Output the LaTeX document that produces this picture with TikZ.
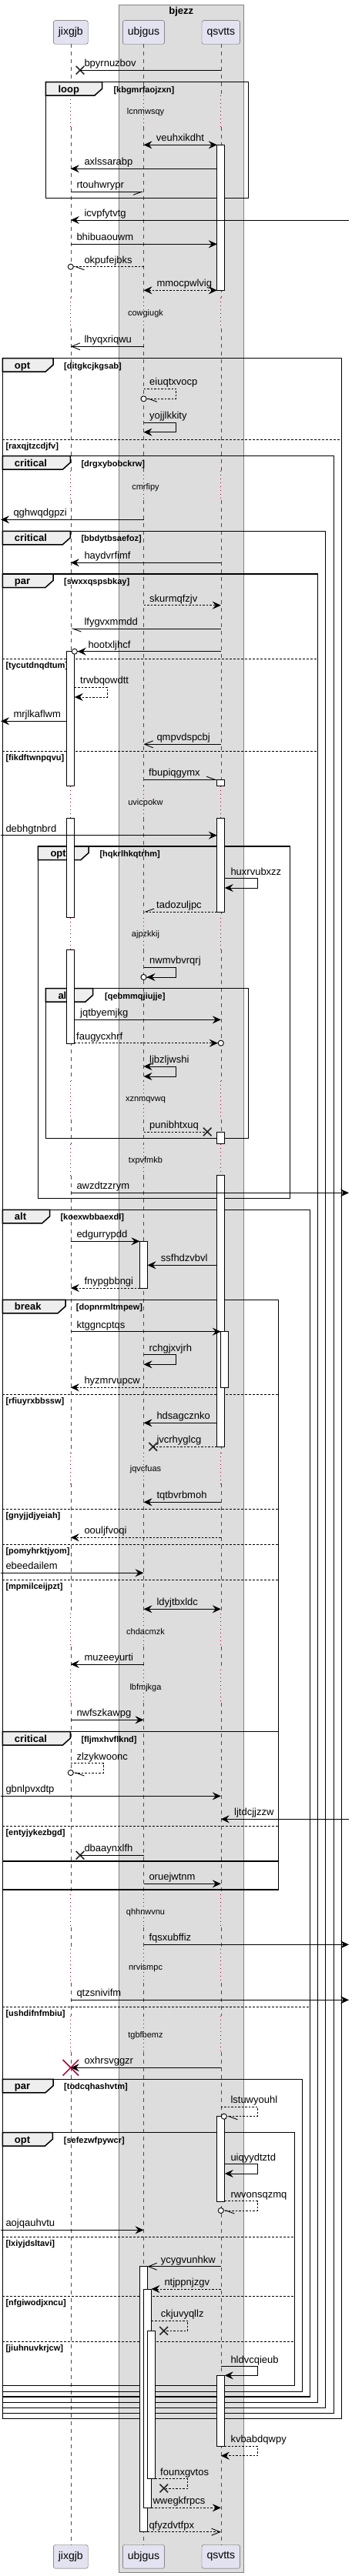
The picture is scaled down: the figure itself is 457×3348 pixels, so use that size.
\documentclass[tikz,border=0pt]{standalone}
\usepackage{fontspec}
\setmainfont{Liberation Sans}
\usepackage{tikz}
\usepgflibrary{arrows.meta}
\usetikzlibrary{calc,shapes.misc}
\definecolor{partfill}{HTML}{E2E2F0}
\definecolor{boxfill}{HTML}{DDDDDD}
\definecolor{tabfill}{HTML}{EEEEEE}
\definecolor{waitred}{HTML}{A80036}

\begin{document}
\begin{tikzpicture}[x=1pt,y=-1pt,
        part/.style={
                draw=black!65,
                fill=partfill,
                rounded corners=2.5pt,
                minimum height=30.6pt,
                inner xsep=6.5pt,
                font=\fontsize{14}{14}\selectfont
            },
        boxname/.style={
                inner sep=0pt,
                font=\bfseries\fontsize{13}{13}\selectfont
            },
        grpbox/.style={
                draw=black!50,
                fill=boxfill,
                line width=0.8pt
            },
        life/.style={
                draw=black!70,
                line width=0.6pt,
                dash pattern=on 5pt off 5pt
            },
        wait/.style={
                draw=waitred,
                line width=0.8pt,
                dash pattern=on 1pt off 4pt
            },
        act/.style={
                draw,
                fill=white,
                line width=0.9pt
            },
        grp/.style={
                draw,
                line width=1.5pt
            },
        tabbox/.style={
                draw,
                fill=tabfill,
                line width=1.5pt
            },
        split/.style={
                draw,
                line width=0.8pt,
                dash pattern=on 2.5pt off 2.5pt
            },
        msg/.style={line width=0.9pt},
        ret/.style={line width=0.9pt, dash pattern=on 2.5pt off 2pt},
        fa/.style={-{Stealth[length=11pt,width=10pt,inset=4pt]}},
        oa/.style={-{Straight Barb[length=11pt,width=9pt]}},
        ba/.style={{Stealth[length=11pt,width=10pt,inset=4pt]}-{Stealth[length=11pt,width=10pt,inset=4pt]}},
        hl/.style={-{Straight Barb[left,length=11pt,width=8pt]}},
        hr/.style={-{Straight Barb[right,length=11pt,width=8pt]}},
        fac/.style={-{Stealth[length=11pt,width=10pt,inset=4pt]Circle[length=8pt,fill=white]}},
        hlc/.style={-{Straight Barb[left,length=11pt,width=8pt]Circle[length=8pt,fill=white]}},
        xmark/.style={
                cross out,
                draw=black!85,
                line width=1.6pt,
                inner sep=0pt,
                minimum size=9pt
            },
        bigx/.style={
                cross out,
                draw=waitred,
                line width=1.5pt,
                inner sep=0pt,
                minimum size=19pt
            },
        lbl/.style={
                anchor=base west,
                inner sep=0pt,
                font=\fontsize{13}{13}\selectfont
            },
        dly/.style={
                inner sep=0pt,
                font=\fontsize{11}{11}\selectfont
            },
        grd/.style={
                anchor=base west,
                inner sep=0pt,
                font=\bfseries\fontsize{11}{11}\selectfont
            },
        kw/.style={
                anchor=base west,
                inner sep=0pt,
                font=\bfseries\fontsize{13}{13}\selectfont
            }]
        \useasboundingbox (0,0) rectangle (457,3348);

        \draw [grpbox] (154.3,6) rectangle (316.3,3343);
        \node [boxname] (bjezz) at (235.3,15) {bjezz};

        \node [part] (jixgjb) at (91.8,42) {jixgjb};
        \node [part] (ubjgus) at (186.5,42) {ubjgus};
        \node [part] (qsvtts) at (286.8,42) {qsvtts};
        \node [part] (jixgjb2) at (91.8,3322.8) {jixgjb};
        \node [part] (ubjgus2) at (186.5,3322.8) {ubjgus};
        \node [part] (qsvtts2) at (286.8,3322.8) {qsvtts};

        \coordinate (jL) at ($(jixgjb) + (-5,0)$);
        \coordinate (jR) at ($(jixgjb) + (5,0)$);
        \coordinate (uL) at ($(ubjgus) + (-5,0)$);
        \coordinate (uR) at ($(ubjgus) + (5,0)$);
        \coordinate (uR2) at ($(ubjgus) + (10,0)$);
        \coordinate (uR3) at ($(ubjgus) + (15,0)$);
        \coordinate (qL) at ($(qsvtts) + (-5,0)$);
        \coordinate (qR) at ($(qsvtts) + (5,0)$);
        \coordinate (lft) at (1,0);
        \coordinate (rgt) at (453,0);

        \foreach \p in {jixgjb,ubjgus,qsvtts} {
            \foreach \a/\b in {57.3/124,165/386.7,426.7/611.7,650/1021.7,1063.3/1192.7,1234.3/1405,1455/1486.7,1527.7/1888,1928.3/2097,2140/2170,2213.3/2461.7,2505/2533,2576.7/2620,2666.7/3307.7}
                \draw [life] (\p |- 0,\a) -- (\p |- 0,\b);
            \foreach \a/\b in {124/165,386.7/426.7,611.7/650,1021.7/1063.3,1192.7/1234.3,1405/1455,1486.7/1527.7,1888/1928.3,2097/2140,2170/2213.3,2461.7/2505,2533/2576.7,2620/2666.7}
                \draw [wait] (\p |- 0,\a) -- (\p |- 0,\b);
        }

        \node [dly] (d1) at (189,146) {lcnmwsqy};
        \node [dly] (d2) at (189,407.7) {cowgiugk};
        \node [dly] (d3) at (189,633.3) {cmrfipy};
        \node [dly] (d4) at (189,1043.3) {uvicpokw};
        \node [dly] (d5) at (189,1214.3) {ajpzkkij};
        \node [dly] (d6) at (189,1429.3) {xznmqvwq};
        \node [dly] (d7) at (189,1508.3) {txpvfmkb};
        \node [dly] (d8) at (189,1910) {jqvcfuas};
        \node [dly] (d9) at (189,2120.3) {chdacmzk};
        \node [dly] (d10) at (189,2193.3) {lbfmjkga};
        \node [dly] (d11) at (189,2485.7) {qhhnwvnu};
        \node [dly] (d12) at (189,2557.3) {nrvismpc};
        \node [dly] (d13) at (189,2645.3) {tgbfbemz};

        \draw [grp] (59.3,106.7) rectangle (322.3,257.3);
        \draw [tabbox] (59.3,106.7) -- (132.7,106.7) -- ++(0,8.5) -- ++(-10,9) -- (59.3,124.2) -- cycle;
        \node [kw] (k1) at (75.3,120.2) {loop};
        \node [grd] (g1) at (147.3,120.2) {[kbgmrfaojzxn]};

        \draw [grp] (3.3,465.7) rectangle (443.3,3143.3);
        \draw [tabbox] (3.3,465.7) -- (69,465.7) -- ++(0,8.5) -- ++(-10,9) -- (3.3,483.2) -- cycle;
        \node [kw] (k2) at (18.8,479.2) {opt};
        \node [grd] (g2) at (83,479.2) {[ditgkcjkgsab]};
        \draw [split] (3.3,571) -- (443.3,571);
        \node [grd] (s1) at (7.3,583.5) {[raxqjtzcdjfv]};

        \draw [grp] (3.3,592.7) rectangle (433.3,3136.7);
        \draw [tabbox] (3.3,592.7) -- (91.3,592.7) -- ++(0,8.5) -- ++(-10,9) -- (3.3,610.2) -- cycle;
        \node [kw] (k3) at (18.8,606.2) {critical};
        \node [grd] (g3) at (105.3,606.2) {[drgxybobckrw]};

        \draw [grp] (3.3,690.3) rectangle (422.7,3129.3);
        \draw [tabbox] (3.3,690.3) -- (91.3,690.3) -- ++(0,8.5) -- ++(-10,9) -- (3.3,707.8) -- cycle;
        \node [kw] (k4) at (18.8,703.8) {critical};
        \node [grd] (g4) at (105.3,703.8) {[bbdytbsaefoz]};

        \draw [grp] (3.3,746) rectangle (412.7,3122.3);
        \draw [tabbox] (3.3,746) -- (69,746) -- ++(0,8.5) -- ++(-10,9) -- (3.3,763.5) -- cycle;
        \node [kw] (k5) at (18.8,759.5) {par};
        \node [grd] (g5) at (83,759.5) {[swxxqspsbkay]};
        \draw [split] (3.3,856) -- (412.7,856);
        \node [grd] (s2) at (7.3,868.5) {[tycutdnqdtum]};
        \draw [split] (3.3,976) -- (412.7,976);
        \node [grd] (s3) at (7.3,988.5) {[fikdftwnpqvu]};

        \draw [grp] (49.3,1100) rectangle (376.7,1557.7);
        \draw [tabbox] (49.3,1100) -- (115,1100) -- ++(0,8.5) -- ++(-10,9) -- (49.3,1117.5) -- cycle;
        \node [kw] (k6) at (65.3,1113.5) {opt};
        \node [grd] (g6) at (129.3,1113.5) {[hqkrlhkqtrhm]};

        \draw [grp] (59.3,1284.7) rectangle (322.3,1479.3);
        \draw [tabbox] (59.3,1284.7) -- (120.7,1284.7) -- ++(0,8.5) -- ++(-10,9) -- (59.3,1302.2) -- cycle;
        \node [kw] (k7) at (75.3,1298.2) {alt};
        \node [grd] (g7) at (136,1298.2) {[qebmmqjiujje]};

        \draw [grp] (3.3,1572.3) rectangle (402.7,3115);
        \draw [tabbox] (3.3,1572.3) -- (64.7,1572.3) -- ++(0,8.5) -- ++(-10,9) -- (3.3,1589.8) -- cycle;
        \node [kw] (k8) at (18.8,1585.8) {alt};
        \node [grd] (g8) at (78.3,1585.8) {[koexwbbaexdl]};
        \draw [split] (3.3,2608.3) -- (402.7,2608.3);
        \node [grd] (s4) at (7.3,2620.8) {[ushdifnfmbiu]};

        \draw [grp] (3.3,1689.3) rectangle (361.7,2456);
        \draw [tabbox] (3.3,1689.3) -- (85,1689.3) -- ++(0,8.5) -- ++(-10,9) -- (3.3,1706.8) -- cycle;
        \node [kw] (k9) at (18.8,1702.8) {break};
        \node [grd] (g9) at (98.7,1702.8) {[dopnrmltmpew]};
        \draw [split] (3.3,1812.3) -- (361.7,1812.3);
        \node [grd] (s5) at (7.3,1824.8) {[rfiuyrxbbssw]};
        \draw [split] (3.3,1961) -- (361.7,1961);
        \node [grd] (s6) at (7.3,1973.5) {[gnyjjdjyeiah]};
        \draw [split] (3.3,2007.3) -- (361.7,2007.3);
        \node [grd] (s7) at (7.3,2019.8) {[pomyhrktjyom]};
        \draw [split] (3.3,2053.3) -- (361.7,2053.3);
        \node [grd] (s8) at (7.3,2065.8) {[mpmilceijpzt]};

        \draw [grp] (3.3,2250.7) rectangle (361.7,2419);
        \draw [tabbox] (3.3,2250.7) -- (91.3,2250.7) -- ++(0,8.5) -- ++(-10,9) -- (3.3,2268.2) -- cycle;
        \node [kw] (k10) at (18.8,2264.2) {critical};
        \node [grd] (g10) at (105.3,2264.2) {[fljmxhvflknd]};
        \draw [split] (3.3,2373.3) -- (361.7,2373.3);
        \node [grd] (s9) at (7.3,2385.8) {[entyjykezbgd]};

        \draw [grp] (3.3,2702.3) rectangle (392.7,3108.3);
        \draw [tabbox] (3.3,2702.3) -- (69,2702.3) -- ++(0,8.5) -- ++(-10,9) -- (3.3,2719.8) -- cycle;
        \node [kw] (k11) at (18.8,2715.8) {par};
        \node [grd] (g11) at (83,2715.8) {[todcqhashvtm]};

        \draw [grp] (3.3,2771.7) rectangle (382.7,3100.7);
        \draw [tabbox] (3.3,2771.7) -- (68.3,2771.7) -- ++(0,8.5) -- ++(-10,9) -- (3.3,2789.2) -- cycle;
        \node [kw] (k12) at (18.8,2785.2) {opt};
        \node [grd] (g12) at (82.7,2785.2) {[sefezwfpywcr]};
        \draw [split] (3.3,2907.3) -- (382.7,2907.3);
        \node [grd] (s10) at (7.3,2919.8) {[lxiyjdsltavi]};
        \draw [split] (3.3,2984) -- (382.7,2984);
        \node [grd] (s11) at (7.3,2996.5) {[nfgiwodjxncu]};
        \draw [split] (3.3,3043.3) -- (382.7,3043.3);
        \node [grd] (s12) at (7.3,3055.8) {[jiuhnuvkrjcw]};

        \draw [act] (qL |- 0,188.3) rectangle (qR |- 0,377.7);
        \draw [act] (jL |- 0,846.7) rectangle (jR |- 0,1021.7);
        \draw [act] (jL |- 0,1063.3) rectangle (jR |- 0,1192.7);
        \draw [act] (jL |- 0,1234.3) rectangle (jR |- 0,1356);
        \draw [act] (qL |- 0,1013.3) rectangle (qR |- 0,1021.7);
        \draw [act] (qL |- 0,1063.3) rectangle (qR |- 0,1185);
        \draw [act] (qL |- 0,1471) rectangle (qR |- 0,1486.7);
        \draw [act] (qL |- 0,1527.7) rectangle (qR |- 0,1880.3);
        \draw [act] (qsvtts |- 0,1730.7) rectangle ($(qsvtts |- 0,1803.3) + (10,0)$);
        \draw [act] (uL |- 0,1613.3) rectangle (uR |- 0,1674);
        \draw [act] (qL |- 0,2750.7) rectangle (qR |- 0,2861);
        \draw [act] (uL |- 0,2945.7) rectangle (uR |- 0,3290.7);
        \draw [act] (ubjgus |- 0,2975) rectangle (uR2 |- 0,3259.3);
        \draw [act] (uR |- 0,3029.3) rectangle (uR3 |- 0,3221.7);
        \draw [act] (qL |- 0,3087.3) rectangle (qR |- 0,3179);

        \node [xmark] (x1) at (104,91.3) {};
        \draw [msg] (qsvtts |- 0,91.3) -- (x1.center);
        \node [lbl] (t1) at (109.3,86.8) {bpyrnuzbov};

        \draw [msg,ba] (ubjgus |- 0,188.3) -- (qL |- 0,188.3);
        \node [lbl] (t2) at (202.7,183.8) {veuhxikdht};
        \draw [msg,fa] (qL |- 0,219.3) -- (jixgjb |- 0,219.3);
        \node [lbl] (t3) at (109.3,214.8) {axlssarabp};
        \draw [msg,hr] (jixgjb |- 0,249.3) -- (ubjgus |- 0,249.3);
        \node [lbl] (t4) at (99.3,244.8) {rtouhwrypr};

        \draw [msg,fa] (rgt |- 0,286) -- (jixgjb |- 0,286);
        \node [lbl] (t5) at (109.3,281.5) {icvpfytvtg};
        \draw [msg,fa] (jixgjb |- 0,317.3) -- (qL |- 0,317.3);
        \node [lbl] (t6) at (99.3,312.8) {bhibuaouwm};
        \draw [ret,hlc] (ubjgus |- 0,346.7) -- ($(jixgjb |- 0,346.7) + (-4,0)$);
        \node [lbl] (t7) at (109.3,342.2) {okpufejbks};
        \draw [ret,ba] (ubjgus |- 0,377.3) -- (qL |- 0,377.3);
        \node [lbl] (t8) at (203.3,372.8) {mmocpwlvig};
        \draw [msg,oa] (ubjgus |- 0,450.3) -- (jixgjb |- 0,450.3);
        \node [lbl] (t9) at (109.3,445.8) {lhyqxriqwu};

        \draw [ret,hlc] (ubjgus |- 0,505.3) -- (228.7,505.3) -- (228.7,518.3) -- ($(ubjgus |- 0,518.3) + (-4,0)$);
        \node [lbl] (t10) at (194,500.8) {eiuqtxvocp};
        \draw [msg,fa] (ubjgus |- 0,549) -- (228.7,549) -- (228.7,561.7) -- (ubjgus |- 0,561.7);
        \node [lbl] (t11) at (194,544.5) {yojjlkkity};

        \draw [msg,fa] (ubjgus |- 0,675.3) -- (lft |- 0,675.3);
        \node [lbl] (t12) at (17.3,670.8) {qghwqdgpzi};
        \draw [msg,fa] (qsvtts |- 0,731.3) -- (jixgjb |- 0,731.3);
        \node [lbl] (t13) at (109.3,726.8) {haydvrfimf};
        \draw [ret,fa] (ubjgus |- 0,786.7) -- (qsvtts |- 0,786.7);
        \node [lbl] (t14) at (194,782.2) {skurmqfzjv};
        \draw [msg,hl] (qsvtts |- 0,817) -- (jixgjb |- 0,817);
        \node [lbl] (t15) at (109.3,812.5) {lfygvxmmdd};
        \draw [msg,fac] (qsvtts |- 0,846.7) -- ($(jR |- 0,846.7) + (-4,0)$);
        \node [lbl] (t16) at (114.3,842.2) {hootxljhcf};

        \draw [ret,fa] (jR |- 0,893.3) -- (139.3,893.3) -- (139.3,906) -- (jR |- 0,906);
        \node [lbl] (t17) at (104,888.8) {trwbqowdtt};
        \draw [msg,fa] (jL |- 0,937.3) -- (lft |- 0,937.3);
        \node [lbl] (t18) at (17.3,932.8) {mrjlkaflwm};
        \draw [msg,oa] (qsvtts |- 0,967.3) -- (ubjgus |- 0,967.3);
        \node [lbl] (t19) at (203.3,962.8) {qmpvdspcbj};

        \draw [msg,hl] (ubjgus |- 0,1013.3) -- (qL |- 0,1013.3);
        \node [lbl] (t20) at (193,1008.8) {fbupiqgymx};
        \draw [msg,fa] (lft |- 0,1085.7) -- (qL |- 0,1085.7);
        \node [lbl] (t21) at (7.3,1081.2) {debhgtnbrd};

        \draw [msg,fa] (qR |- 0,1141.7) -- (334.3,1141.7) -- (334.3,1154) -- (qR |- 0,1154);
        \node [lbl] (t22) at (299.3,1137.2) {huxrvubxzz};
        \draw [ret,hr] (qL |- 0,1185) -- (ubjgus |- 0,1185);
        \node [lbl] (t23) at (203,1180.5) {tadozuljpc};
        \draw [msg,fac] (ubjgus |- 0,1257.3) -- (228.7,1257.3) -- (228.7,1270) -- ($(ubjgus |- 0,1270) + (-4,0)$);
        \node [lbl] (t24) at (194,1252.8) {nwmvbvrqrj};

        \draw [msg,fa] (jR |- 0,1325.3) -- (qsvtts |- 0,1325.3);
        \node [lbl] (t25) at (104,1320.8) {jqtbyemjkg};
        \draw [ret,fac] (jR |- 0,1355.7) -- ($(qsvtts |- 0,1355.7) + (4,0)$);
        \node [lbl] (t26) at (99,1351.2) {faugycxhrf};
        \draw [msg,ba] (ubjgus |- 0,1386) -- (228.7,1386) -- (228.7,1399) -- (ubjgus |- 0,1399);
        \node [lbl] (t27) at (194,1381.5) {ljbzljwshi};

        \node [xmark] (x2) at (269.3,1471) {};
        \draw [ret] (ubjgus |- 0,1471) -- (x2.center);
        \node [lbl] (t28) at (194,1466.5) {punibhtxuq};
        \draw [msg,fa] (jixgjb |- 0,1550.3) -- (rgt |- 0,1550.3);
        \node [lbl] (t29) at (99.3,1545.8) {awzdtzzrym};

        \draw [msg,fa] (jixgjb |- 0,1613.3) -- (uL |- 0,1613.3);
        \node [lbl] (t30) at (99.3,1608.8) {edgurrypdd};
        \draw [msg,fa] (qL |- 0,1644.3) -- (uR |- 0,1644.3);
        \node [lbl] (t31) at (208.7,1639.8) {ssfhdzvbvl};
        \draw [ret,fa] (uL |- 0,1674) -- (jixgjb |- 0,1674);
        \node [lbl] (t32) at (109.3,1669.5) {fnypgbbngi};

        \draw [msg,fa] (jixgjb |- 0,1730.7) -- (qsvtts |- 0,1730.7);
        \node [lbl] (t33) at (99.3,1726.2) {ktggncptqs};
        \draw [msg,fa] (ubjgus |- 0,1760.7) -- (228.7,1760.7) -- (228.7,1773.3) -- (ubjgus |- 0,1773.3);
        \node [lbl] (t34) at (193.3,1756.2) {rchgjxvjrh};
        \draw [ret,fa] (qL |- 0,1803.3) -- (jixgjb |- 0,1803.3);
        \node [lbl] (t35) at (109.3,1798.8) {hyzmrvupcw};
        \draw [msg,fa] (qL |- 0,1849.3) -- (ubjgus |- 0,1849.3);
        \node [lbl] (t36) at (203.3,1844.8) {hdsagcznko};
        \node [xmark] (x3) at (198.7,1880.3) {};
        \draw [ret] (qL |- 0,1880.3) -- (x3.center);
        \node [lbl] (t37) at (203.3,1875.8) {jvcrhyglcg};
        \draw [msg,fa] (qsvtts |- 0,1952.3) -- (ubjgus |- 0,1952.3);
        \node [lbl] (t38) at (203.3,1947.8) {tqtbvrbmoh};

        \draw [ret,fa] (qsvtts |- 0,1998.3) -- (jixgjb |- 0,1998.3);
        \node [lbl] (t39) at (109.3,1993.8) {oouljfvoqi};
        \draw [msg,fa] (lft |- 0,2044.3) -- (ubjgus |- 0,2044.3);
        \node [lbl] (t40) at (7.3,2039.8) {ebeedailem};
        \draw [msg,ba] (ubjgus |- 0,2091.3) -- (qsvtts |- 0,2091.3);
        \node [lbl] (t41) at (203.3,2086.8) {ldyjtbxldc};
        \draw [msg,fa] (ubjgus |- 0,2163) -- (jixgjb |- 0,2163);
        \node [lbl] (t42) at (109.3,2158.5) {muzeeyurti};
        \draw [msg,fa] (jixgjb |- 0,2235.3) -- (ubjgus |- 0,2235.3);
        \node [lbl] (t43) at (99.3,2230.8) {nwfszkawpg};

        \draw [ret,hlc] (jixgjb |- 0,2291.7) -- (134.3,2291.7) -- (134.3,2304) -- ($(jixgjb |- 0,2304) + (-4,0)$);
        \node [lbl] (t44) at (99.3,2287.2) {zlzykwoonc};
        \draw [msg,fa] (lft |- 0,2334.3) -- (qsvtts |- 0,2334.3);
        \node [lbl] (t45) at (7.3,2329.8) {gbnlpvxdtp};
        \draw [msg,fa] (rgt |- 0,2364.3) -- (qsvtts |- 0,2364.3);
        \node [lbl] (t46) at (304,2359.8) {ljtdcjjzzw};
        \node [xmark] (x4) at (104,2411.3) {};
        \draw [msg] (ubjgus |- 0,2411.3) -- (x4.center);
        \node [lbl] (t47) at (109.3,2406.8) {dbaaynxlfh};
        \draw [msg,fa] (ubjgus |- 0,2448.3) -- (qsvtts |- 0,2448.3);
        \node [lbl] (t48) at (193.3,2443.8) {oruejwtnm};

        \draw [msg,fa] (ubjgus |- 0,2527.3) -- (rgt |- 0,2527.3);
        \node [lbl] (t49) at (193.3,2522.8) {fqsxubffiz};
        \draw [msg,fa] (jixgjb |- 0,2599.3) -- (rgt |- 0,2599.3);
        \node [lbl] (t50) at (99.3,2594.8) {qtzsnivifm};
        \draw [msg,fa] (qsvtts |- 0,2687.3) -- (jixgjb |- 0,2687.3);
        \node [bigx] (x5) at (jixgjb |- 0,2687.3) {};
        \node [lbl] (t51) at (109.3,2682.8) {oxhrsvggzr};

        \draw [ret,hlc] (qsvtts |- 0,2738.3) -- (334.3,2738.3) -- (334.3,2750.7) -- (qsvtts |- 0,2750.7);
        \node [lbl] (t52) at (299.3,2733.8) {lstuwyouhl};
        \draw [msg,fa] (qR |- 0,2812.7) -- (334.3,2812.7) -- (334.3,2825) -- (qR |- 0,2825);
        \node [lbl] (t53) at (299.3,2808.2) {uiqyydtztd};
        \draw [ret,hlc] (qR |- 0,2860.7) -- (334.3,2860.7) -- (334.3,2873) -- ($(qsvtts |- 0,2873) + (-4,0)$);
        \node [lbl] (t54) at (299.3,2856.2) {rwvonsqzmq};
        \draw [msg,fa] (lft |- 0,2898.3) -- (ubjgus |- 0,2898.3);
        \node [lbl] (t55) at (7.3,2893.8) {aojqauhvtu};

        \draw [msg,oa] (qsvtts |- 0,2945.7) -- (uR |- 0,2945.7);
        \node [lbl] (t56) at (208.7,2941.2) {ycygvunhkw};
        \draw [ret,fa] (qsvtts |- 0,2975) -- (uR2 |- 0,2975);
        \node [lbl] (t57) at (213.3,2970.5) {ntjppnjzgv};
        \node [xmark] (x6) at (212.7,3029.3) {};
        \draw [ret] (uR2 |- 0,3016) -- (243.7,3016) -- (243.7,3029.3) -- (x6.center);
        \node [lbl] (t58) at (208.7,3011.5) {ckjuvyqllz};
        \draw [msg,fa] (qsvtts |- 0,3075.7) -- (334.3,3075.7) -- (334.3,3087.3) -- (qR |- 0,3087.3);
        \node [lbl] (t59) at (299.3,3071.2) {hldvcqieub};

        \draw [ret,fa] (qR |- 0,3179) -- (334.3,3179) -- (334.3,3191.7) -- (qsvtts |- 0,3191.7);
        \node [lbl] (t60) at (299.3,3174.5) {kvbabdqwpy};
        \node [xmark] (x7) at (212.7,3234) {};
        \draw [ret] (uR3 |- 0,3221.7) -- (243.7,3221.7) -- (243.7,3234) -- (x7.center);
        \node [lbl] (t61) at (208,3217.2) {founxgvtos};
        \draw [ret,fa] (uR2 |- 0,3259.3) -- (qsvtts |- 0,3259.3);
        \node [lbl] (t62) at (198.3,3254.8) {wwegkfrpcs};
        \draw [ret,oa] (uR |- 0,3290.7) -- (qsvtts |- 0,3290.7);
        \node [lbl] (t63) at (193.3,3286.2) {qfyzdvtfpx};
\end{tikzpicture}
\end{document}
